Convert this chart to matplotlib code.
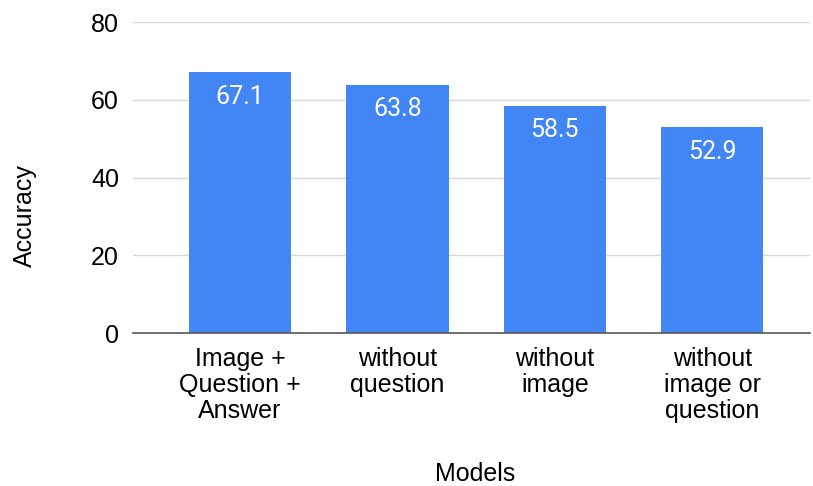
import matplotlib
matplotlib.use('Agg')
import matplotlib.pyplot as plt

models = ['Image +\nQuestion +\nAnswer', 'without\nquestion', 'without\nimage', 'without\nimage or\nquestion']
accuracy = [67.1, 63.8, 58.5, 52.9]
y_ticks = [0, 20, 40, 60, 80]

BAR_COLOR = '#4285f4'
plt.rcParams['font.family'] = ['Liberation Sans', 'DejaVu Sans']

fig = plt.figure(figsize=(8.13, 4.86), dpi=100)
ax = fig.add_axes([0.1636, 0.3148, 0.8324, 0.6399])

x = list(range(len(models)))
ax.bar(x, accuracy, width=0.65, color=BAR_COLOR, zorder=3)

for xi, val in zip(x, accuracy):
    ax.text(xi, val - 6.3, '{:.1f}'.format(val), ha='center', va='center',
            color='white', fontsize=18, family=['Roboto', 'DejaVu Sans'], zorder=4)

ax.set_xlim(-0.68, 3.62)
ax.set_ylim(0, 80)
ax.set_yticks(y_ticks)
ax.set_xticks(x)
ax.set_xticklabels(models, fontsize=18, linespacing=1.1)
ax.tick_params(axis='y', labelsize=18, length=0, pad=10)
ax.tick_params(axis='x', length=0, pad=10)

ax.grid(axis='y', color='#d9d9d9', linewidth=1, zorder=0)
for side in ['top', 'right', 'left']:
    ax.spines[side].set_visible(False)
ax.spines['bottom'].set_color('#555555')
ax.spines['bottom'].set_linewidth(1.2)
ax.spines['bottom'].set_zorder(5)

fig.text(0.031, 0.556, 'Accuracy', rotation=90, ha='center', va='center', fontsize=18)
fig.text(0.584, 0.025, 'Models', ha='center', va='center', fontsize=18)

fig.savefig('out.png', dpi=100)
